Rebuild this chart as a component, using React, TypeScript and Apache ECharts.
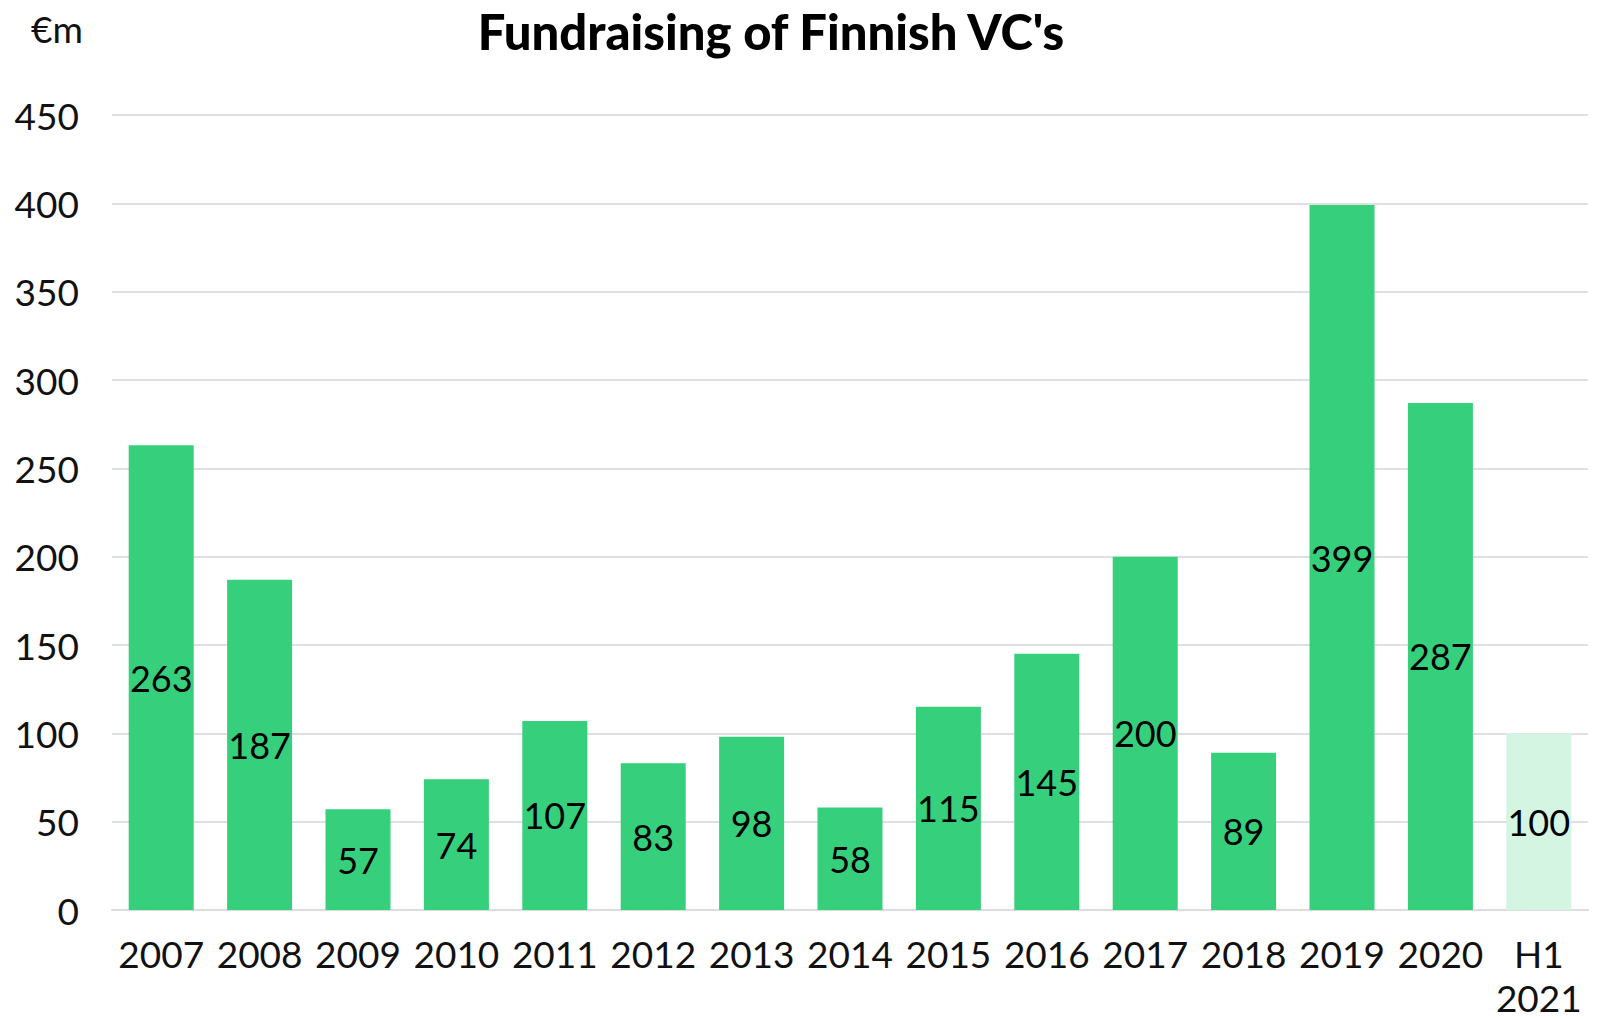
import React, { useEffect, useRef } from "react";
import * as echarts from "echarts";

const categories = ["2007", "2008", "2009", "2010", "2011", "2012", "2013", "2014", "2015", "2016", "2017", "2018", "2019", "2020", "H1\n2021"];
const values = [263, 187, 57, 74, 107, 83, 98, 58, 115, 145, 200, 89, 399, 287, 100];
const partialYear = [false, false, false, false, false, false, false, false, false, false, false, false, false, false, true];
const yTicks = { min: 0, max: 450, interval: 50 };

const FONT = "Lato, 'Noto Sans', sans-serif";

export default function App() {
  const ref = useRef<HTMLDivElement>(null);
  useEffect(() => {
    document.body.style.margin = "0";
    const chart = echarts.init(ref.current!, null, { renderer: "svg" });
    chart.setOption({
      animation: false,
      backgroundColor: "#ffffff",
      textStyle: { fontFamily: FONT },
      grid: { left: 112, right: 12, top: 115, bottom: 95, containLabel: false },
      graphic: [
        {
          type: "text",
          x: 771,
          y: 31,
          style: {
            text: "Fundraising of Finnish VC's",
            fontFamily: FONT,
            fontWeight: 900,
            fontSize: 49,
            fill: "#000",
            textAlign: "center",
            textVerticalAlign: "middle",
          },
        },
        {
          type: "text",
          x: 31,
          y: 28,
          style: {
            text: "€m",
            fontFamily: FONT,
            fontSize: 37,
            fill: "#111",
            textAlign: "left",
            textVerticalAlign: "middle",
          },
        },
      ],
      xAxis: {
        type: "category",
        data: categories,
        axisLine: { show: true, lineStyle: { color: "#dddddd", width: 2 } },
        axisTick: { show: false },
        axisLabel: {
          fontSize: 37,
          color: "#111",
          margin: 21,
          lineHeight: 44,
          fontFamily: FONT,
          interval: 0,
        },
      },
      yAxis: {
        type: "value",
        min: yTicks.min,
        max: yTicks.max,
        interval: yTicks.interval,
        axisLine: { show: false },
        axisTick: { show: false },
        splitLine: { lineStyle: { color: "#e0e0e0", width: 2 } },
        axisLabel: { fontSize: 37, color: "#111", margin: 33, fontFamily: FONT },
      },
      series: [
        {
          type: "bar",
          barWidth: 65,
          data: values.map((v, i) => ({
            value: v,
            itemStyle: { color: partialYear[i] ? "#d5f5e3" : "#36d07c" },
          })),
          label: {
            show: true,
            position: "inside",
            fontSize: 36,
            color: "#000",
            fontFamily: FONT,
          },
        },
      ],
    });
    return () => chart.dispose();
  }, []);
  return <div ref={ref} style={{ width: 1600, height: 1019 }} />;
}
